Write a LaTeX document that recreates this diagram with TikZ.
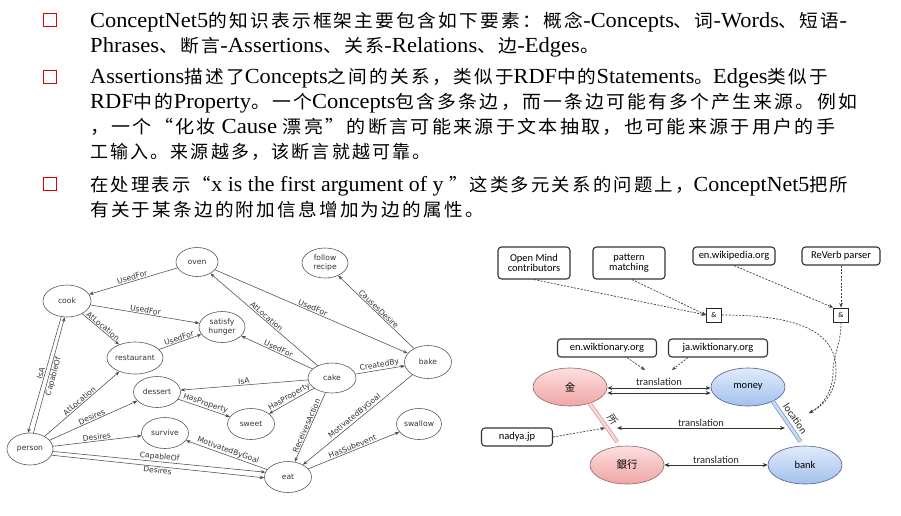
\documentclass[tikz,border=0pt]{standalone}
\usepackage{fontspec}
\usepackage{graphicx}
\setmainfont{Liberation Serif}
\newfontfamily\zhfont[LetterSpace=12]{Noto Sans CJK SC}
\newfontfamily\jpfont{Noto Sans CJK JP}
\newfontfamily\gfont{DejaVu Sans}
\newfontfamily\cfont{Carlito}
\usetikzlibrary{shapes.geometric,arrows.meta,calc}
\newcommand{\han}[1]{{\zhfont\fontsize{18}{18}\selectfont #1}}
\newcommand{\wide}[2]{\scalebox{#1}[1]{#2}}
\definecolor{pinkedge}{HTML}{D9A0A0}
\definecolor{pinkfill}{HTML}{F7D6D6}
\definecolor{pinkhead}{HTML}{E59A9A}
\definecolor{blueedge}{HTML}{7C9CC8}
\definecolor{bluefill}{HTML}{CADCF3}
\definecolor{bluehead}{HTML}{86A8D8}
\definecolor{pinktop}{RGB}{252,224,224}
\definecolor{pinkbot}{RGB}{241,164,164}
\definecolor{bluetop}{RGB}{224,235,251}
\definecolor{bluebot}{RGB}{162,193,236}
\begin{document}
\begin{tikzpicture}[x=1pt,y=-1pt,
  txt/.style={anchor=base west,inner sep=0pt,font=\fontsize{21.5}{21.5}\selectfont},
  bul/.style={draw=red!90!black,line width=1.6pt,minimum size=13pt,inner sep=0pt},
  gnode/.style={ellipse,draw=black!65,line width=0.6pt,minimum width=47pt,minimum height=31pt,
    inner sep=0pt,align=center,text=black!80,font=\gfont\fontsize{7.6}{8.6}\selectfont},
  gedge/.style={draw=black!70,line width=0.55pt,-{Stealth[length=4.5pt,width=3.4pt]}},
  glab/.style={sloped,above,inner sep=0.8pt,text=black!80,font=\gfont\fontsize{7.6}{8.6}\selectfont},
  rbox/.style={draw=black!80,line width=1.1pt,rounded corners=3.5pt,fill=white,align=center,
    inner sep=1.5pt,minimum height=18pt,font=\cfont\fontsize{10.5}{11.5}\selectfont},
  ampbox/.style={draw=black!85,line width=0.9pt,minimum width=15pt,minimum height=14pt,inner sep=0pt,
    fill=white,font=\cfont\fontsize{7.5}{8}\selectfont},
  pinknode/.style={ellipse,draw=red!30!black!60,line width=0.6pt,minimum width=74pt,minimum height=38pt,
    top color=pinktop,bottom color=pinkbot,font=\jpfont\fontsize{10.5}{11}\selectfont},
  bluenode/.style={ellipse,draw=blue!35!black!65,line width=0.6pt,minimum width=74pt,minimum height=38pt,
    top color=bluetop,bottom color=bluebot,font=\cfont\fontsize{10.5}{11}\selectfont},
  srcdash/.style={draw=black!75,line width=0.7pt,dash pattern=on 2pt off 1.4pt},
  srcarrow/.style={srcdash,-{Stealth[length=4.5pt,width=3.6pt]}},
  trans/.style={draw=black!80,line width=1pt},
  tlab/.style={above,inner sep=1pt,text=black!85,font=\cfont\fontsize{10.5}{11}\selectfont},
  wlab/.style={sloped,above,inner sep=4.5pt,text=black!85}]
\useasboundingbox (0,0) rectangle (901,515);
\fill[white] (0,0) rectangle (901,515);

% ---- bullet text ----
\node[bul] (b1) at (50,20) {};
\node[bul] (b2) at (50,77) {};
\node[bul] (b3) at (50,184) {};
\node[txt] (l1) at (90,27) {\wide{1.04}{ConceptNet5\han{的知识表示框架主要包含如下要素：概念}-Concepts\han{、词}-Words\han{、短语}-}};
\node[txt] (l2) at (90,52) {\wide{1.05}{Phrases\han{、断言}-Assertions\han{、关系}-Relations\han{、边}-Edges\han{。}}};
\node[txt] (l3) at (90,83) {\wide{1.037}{Assertions\han{描述了}Concepts\han{之间的关系，类似于}RDF\han{中的}Statements\han{。}Edges\han{类似于}}};
\node[txt] (l4) at (90,108) {\wide{1.045}{RDF\han{中的}Property\han{。一个}Concepts\han{包含多条边，而一条边可能有多个产生来源。例如}}};
\node[txt] (l5) at (90,133) {\wide{1.058}{\han{，一个“化妆} Cause \han{漂亮”的断言可能来源于文本抽取，也可能来源于用户的手}}};
\node[txt] (l6) at (90,158) {\han{工输入。来源越多，该断言就越可靠。}};
\node[txt] (l7) at (90,191) {\wide{1.02}{\han{在处理表示“}x is the first argument of y \han{”这类多元关系的问题上，}ConceptNet5\han{把所}}};
\node[txt] (l8) at (90,216) {\wide{1.033}{\han{有关于某条边的附加信息增加为边的属性。}}};

% ---- concept graph ----
\node[gnode,minimum width=42pt,minimum height=29pt] (oven) at (197,262) {oven};
\node[gnode,minimum width=46pt,minimum height=30pt] (follow) at (325,263) {follow\\recipe};
\node[gnode,minimum width=48pt,minimum height=32pt] (cook) at (67,301) {cook};
\node[gnode,minimum width=46pt,minimum height=31pt] (satisfy) at (222,327) {satisfy\\hunger};
\node[gnode,minimum width=49pt,minimum height=32pt] (rest) at (135,358) {restaurant};
\node[gnode,minimum width=47pt,minimum height=33pt] (bake) at (428,362) {bake};
\node[gnode,minimum width=48pt,minimum height=30pt] (cake) at (332,378) {cake};
\node[gnode] (dessert) at (157,392) {dessert};
\node[gnode] (sweet) at (251,424) {sweet};
\node[gnode,minimum width=45pt] (swallow) at (419,424) {swallow};
\node[gnode] (survive) at (165,433) {survive};
\node[gnode,minimum width=46pt,minimum height=32pt] (person) at (30,449) {person};
\node[gnode] (eat) at (288,477) {eat};

\draw[gedge] (oven) -- node[glab]{UsedFor} (cook);
\draw[gedge] (cook) -- node[glab]{UsedFor} (satisfy);
\draw[gedge] (cook) -- node[glab]{AtLocation} (rest);
\draw[gedge] (rest) -- node[glab]{UsedFor} (satisfy);
\draw[gedge] (cake) -- node[glab]{UsedFor} (satisfy);
\draw[gedge] (cake) -- node[glab]{AtLocation} (oven);
\draw[gedge] (oven) -- node[glab]{UsedFor} (bake);
\draw[gedge] (bake) -- node[glab]{CausesDesire} (follow);
\draw[gedge] (cake) -- node[glab]{CreatedBy} (bake);
\draw[gedge] (cake) -- node[glab]{IsA} (dessert);
\draw[gedge] (dessert) -- node[glab]{HasProperty} (sweet);
\draw[gedge] (cake) -- node[glab]{HasProperty} (sweet);
\draw[gedge] (cake) -- node[glab]{ReceivesAction} (eat);
\draw[gedge] (bake) -- node[glab]{MotivatedByGoal} (eat);
\draw[gedge] (eat) -- node[glab]{HasSubevent} (swallow);
\draw[gedge] (eat) -- node[glab]{MotivatedByGoal} (survive);
\draw[gedge] (person) -- node[glab]{Desires} (survive);
\draw[gedge] (person) -- node[glab]{Desires} (dessert);
\draw[gedge] (person) -- node[glab]{AtLocation} (rest);
\draw[gedge] (person.-6) -- node[glab]{CapableOf} (eat.168);
\draw[gedge] (person.-16) -- node[glab,below]{Desires} (eat.182);
\draw[gedge] (cook.250) -- node[glab]{IsA} (person.97);
\draw[gedge] (person.78) -- node[glab,below]{CapableOf} (cook.262);

% ---- sources and translations ----
\node[rbox,minimum width=72pt,minimum height=32pt] (omc) at (534,263) {Open Mind\\[-1pt]contributors};
\node[rbox,minimum width=72pt,minimum height=32pt] (pm) at (629,263) {pattern\\[-1pt]matching};
\node[rbox,minimum width=82pt] (enwp) at (734,256) {en.wikipedia.org};
\node[rbox,minimum width=78pt] (rv) at (841,256) {ReVerb parser};
\node[ampbox] (amp1) at (714,315) {\&};
\node[ampbox] (amp2) at (841,315) {\&};
\node[rbox,minimum width=99pt] (enwkt) at (607,348) {en.wiktionary.org};
\node[rbox,minimum width=99pt] (jawkt) at (718,348) {ja.wiktionary.org};
\node[rbox,minimum width=71pt] (nadya) at (517,437) {nadya.jp};

\node[pinknode] (jin) at (570,387) {金};
\node[bluenode] (money) at (748,387) {money};
\node[pinknode] (ginkou) at (627,465) {銀行};
\node[bluenode] (bank) at (805,465) {bank};

\coordinate (tA) at (645,370);
\coordinate (tB) at (672,370);
\coordinate (sL) at (617,428);
\coordinate (sR) at (785,428);
\coordinate (sN) at (605,428);
\coordinate (loc) at (809,413);

\draw[srcarrow] (omc.south) -- (amp1.west);
\draw[srcarrow] ([xshift=3pt]pm.south) -- (amp1.west);
\draw[srcarrow] (enwp.south) -- (amp2.north west);
\draw[srcarrow] (rv.south) -- (amp2.north);
\draw[srcdash] (amp1.east) .. controls (795,315) and (836,330) .. (836,370) .. controls (836,392) and (824,406) .. (loc);
\draw[srcarrow] (amp2.south) .. controls (841,345) and (833,355) .. (833,372) .. controls (833,392) and (822,406) .. (loc);
\draw[srcarrow] ([xshift=20pt]enwkt.south) -- (tA);
\draw[srcarrow] ([xshift=-30pt]jawkt.south) -- (tB);
\draw[srcarrow] (nadya.east) -- (sN);

% translation links
\draw[trans,{Stealth[length=5pt,width=4pt]}-{Stealth[length=5pt,width=4pt]}] ([yshift=-1pt]jin.east) -- node[tlab,yshift=1pt]{translation} ([yshift=-1pt]money.west);
\draw[trans,{Stealth[length=5pt,width=4pt]}-{Stealth[length=5pt,width=4pt]}] ([yshift=-6pt]jin.east) -- ([yshift=-6pt]money.west);
\draw[trans,{Stealth[length=5pt,width=4pt]}-{Stealth[length=5pt,width=4pt]}] (sL) -- node[tlab]{translation} (sR);
\draw[trans,{Stealth[length=5pt,width=4pt]}-{Stealth[length=5pt,width=4pt]}] (ginkou.east) -- node[tlab]{translation} (bank.west);

% wide relation arrows: striped shaft plus a separate head
\draw[pinkedge,line width=0.8pt,double=pinkfill,double distance=2.6pt,shorten >=5pt]
  (jin.-40) -- node[wlab,font=\jpfont\fontsize{10}{10}\selectfont]{所} (ginkou.110);
\draw[draw=none,fill=pinkhead,-{Triangle[length=6pt,width=8pt]},shorten <=0pt]
  ($(jin.-40)!0.82!(ginkou.110)$) -- (ginkou.110);
\draw[blueedge,line width=0.8pt,double=bluefill,double distance=2.6pt,shorten >=5pt]
  (money.-30) -- node[wlab,font=\cfont\fontsize{10.5}{11}\selectfont]{location} (bank.95);
\draw[draw=none,fill=bluehead,-{Triangle[length=6pt,width=8pt]}]
  ($(money.-30)!0.82!(bank.95)$) -- (bank.95);
\end{tikzpicture}
\end{document}
